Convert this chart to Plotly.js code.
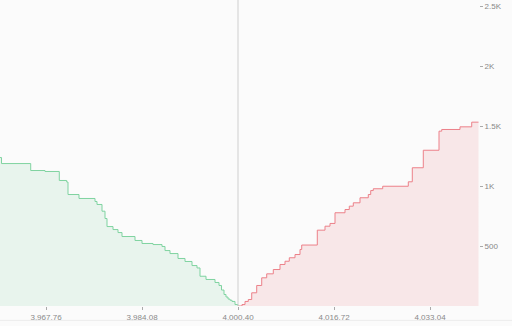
<!DOCTYPE html>
<html>
<head>
<meta charset="utf-8">
<script src="https://cdn.plot.ly/plotly-3.0.1.min.js"></script>
<style>html,body{margin:0;padding:0;background:#fbfbfb;}#chart{width:512px;height:326px;}</style>
</head>
<body>
<div id="chart"></div>
<script>
const bidPrices = [3959.94,3960.20,3965.16,3967.59,3970.02,3971.28,3971.50,3973.37,3976.09,3976.43,3977.28,3977.79,3978.13,3979.15,3980.00,3980.68,3982.89,3984.08,3985.95,3987.48,3987.99,3988.84,3990.20,3991.39,3992.58,3993.43,3993.94,3994.96,3996.49,3997.17,3997.60,3998.02,3998.36,3998.70,3999.04,3999.38,3999.89,4000.40];
const bidDepth = [1237,1187,1129,1121,1046,1033,929,896,871,846,790,729,662,637,612,579,546,521,512,496,462,437,396,371,337,317,248,221,196,171,133,96,75,58,48,38,12,0];
const askPrices = [4000.45,4001.08,4001.59,4002.15,4002.73,4003.58,4004.43,4005.28,4006.40,4007.54,4008.39,4009.12,4010.09,4010.94,4011.23,4013.88,4015.19,4016.04,4016.89,4018.59,4019.32,4020.00,4021.14,4022.55,4022.96,4023.40,4025.00,4029.35,4030.03,4031.90,4034.57,4035.03,4038.14,4040.13,4041.29];
const askDepth = [0,12,38,54,110,171,235,268,304,346,373,402,429,471,508,632,665,688,777,804,832,860,902,929,962,977,998,1035,1152,1298,1457,1471,1493,1532,1532];
const midPrice = 4000.40;
const xTickVals = [3967.76,3984.08,4000.40,4016.72,4033.04];
const xTickText = ['3,967.76','3,984.08','4,000.40','4,016.72','4,033.04'];
const yTickVals = [500,1000,1500,2000,2500];
const yTickText = ['500','1K','1.5K','2K','2.5K'];

const traces = [
  {x: bidPrices, y: bidDepth, type: 'scatter', mode: 'lines', line: {shape: 'hv', color: '#7fd3a0', width: 1}, fill: 'tozeroy', fillcolor: 'rgba(127,211,160,0.15)', hoverinfo: 'skip'},
  {x: askPrices, y: askDepth, type: 'scatter', mode: 'lines', line: {shape: 'hv', color: '#ec8089', width: 1}, fill: 'tozeroy', fillcolor: 'rgba(236,128,137,0.16)', hoverinfo: 'skip'}
];
const layout = {
  width: 512, height: 326,
  margin: {l: 0, r: 33, t: 0, b: 20},
  paper_bgcolor: '#fbfbfb', plot_bgcolor: '#fbfbfb',
  showlegend: false,
  font: {family: '"Liberation Sans", Arial, sans-serif', size: 8, color: '#888'},
  xaxis: {range: [3959.94, 4041.37], tickvals: xTickVals, ticktext: xTickText, ticks: 'outside', ticklen: 3, tickcolor: '#aaa', showgrid: false, zeroline: false, showline: false, fixedrange: true},
  yaxis: {range: [0, 2550], side: 'right', tickvals: yTickVals, ticktext: yTickText, ticks: 'outside', ticklen: 3, tickcolor: '#aaa', showgrid: false, zeroline: false, showline: false, fixedrange: true},
  shapes: [
    {type: 'line', xref: 'x', yref: 'paper', x0: midPrice, x1: midPrice, y0: 0, y1: 1, line: {color: '#cfcfcf', width: 1}},
    {type: 'line', xref: 'paper', yref: 'paper', x0: 0, x1: 1.07, y0: -0.047, y1: -0.047, line: {color: '#ececec', width: 1}}
  ]
};
Plotly.newPlot('chart', traces, layout, {displayModeBar: false, staticPlot: true});
</script>
</body>
</html>
